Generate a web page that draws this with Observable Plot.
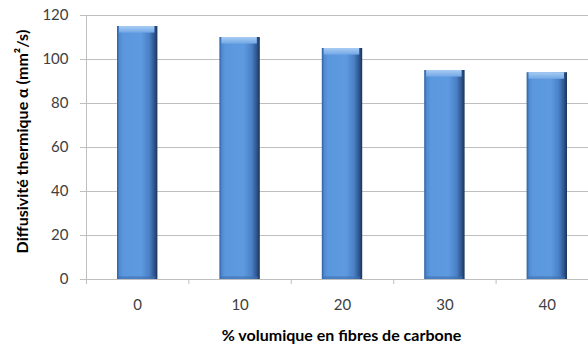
<!DOCTYPE html>
<html>
<head>
<meta charset="utf-8">
<script src="https://cdn.jsdelivr.net/npm/d3@7"></script>
<script src="https://cdn.jsdelivr.net/npm/@observablehq/plot@0.6"></script>
<style>
  html, body { margin: 0; padding: 0; background: white; }
</style>
</head>
<body>
<div id="chart"></div>
<script>
const categories = [0, 10, 20, 30, 40];
const values = [115, 110, 105, 95, 94];
const yTicks = [0, 20, 40, 60, 80, 100, 120];
const xBoundaries = [-5, 5, 15, 25, 35, 45];
const xLabel = "% volumique en fibres de carbone";
const yLabel = "Diffusivité thermique α (mm²/s)";

const data = categories.map((c, i) => ({c, v: values[i]}));

const chart = Plot.plot({
  width: 588,
  height: 350,
  marginTop: 15,
  marginBottom: 71,
  marginLeft: 86,
  marginRight: 0,
  x: {type: "linear", domain: [-5, 45], range: [86, 598]},
  y: {domain: [0, 120], range: [279, 15]},
  style: {fontFamily: "Lato, 'Open Sans', sans-serif", fontSize: "15px", color: "#404040", background: "white"},
  marks: [
    Plot.gridY(yTicks, {stroke: "#bfbfbf", strokeOpacity: 1}),
    Plot.ruleX([-5], {stroke: "#bfbfbf", y1: 0, y2: 120}),
    Plot.ruleY([0], {stroke: "#bfbfbf"}),
    Plot.rectY(data, {x1: d => d.c - 5, x2: d => d.c + 5, y1: 0, y2: "v", insetLeft: 31, insetRight: 31, fill: "url(#barGrad)"}),
    Plot.rectY(data, {x1: d => d.c - 5, x2: d => d.c + 5, y1: d => d.v - 3, y2: "v", insetLeft: 33, insetRight: 34, fill: "url(#capGrad)"}),
    Plot.rectY(data, {x1: d => d.c - 5, x2: d => d.c + 5, y1: 0, y2: 1.2, insetLeft: 32, insetRight: 33, fill: "#3d6fb0", fillOpacity: 0.6}),
    Plot.axisY({ticks: yTicks, tickSize: 6, tickPadding: 12, stroke: "#bfbfbf", fill: "#404040", label: null}),
    Plot.axisX({ticks: xBoundaries, tickSize: 5, tickFormat: () => "", stroke: "#bfbfbf", label: null}),
    Plot.axisX({ticks: categories, tickSize: 0, tickPadding: 20, fill: "#404040", label: null}),
    Plot.text([yLabel], {frameAnchor: "left", textAnchor: "middle", dx: -64, dy: -6, rotate: -90, fontWeight: "bold", fill: "#000", fontSize: 16}),
    Plot.text([xLabel], {frameAnchor: "bottom", textAnchor: "middle", dy: 61, dx: 4, fontWeight: "bold", fill: "#000", fontSize: 16})
  ]
});

d3.select(chart).insert("defs", ":first-child").html(`
  <linearGradient id="barGrad" x1="0" y1="0" x2="1" y2="0">
    <stop offset="0" stop-color="#2f5e9e"/>
    <stop offset="0.06" stop-color="#4f8ad2"/>
    <stop offset="0.15" stop-color="#5b97dd"/>
    <stop offset="0.6" stop-color="#5e9ae0"/>
    <stop offset="0.8" stop-color="#4a80c6"/>
    <stop offset="0.92" stop-color="#2f568f"/>
    <stop offset="1" stop-color="#1b3458"/>
  </linearGradient>
  <linearGradient id="capGrad" x1="0" y1="0" x2="0" y2="1">
    <stop offset="0" stop-color="#a8ccf3"/>
    <stop offset="1" stop-color="#72a8e6"/>
  </linearGradient>
`);

document.getElementById("chart").appendChild(chart);
</script>
</body>
</html>
